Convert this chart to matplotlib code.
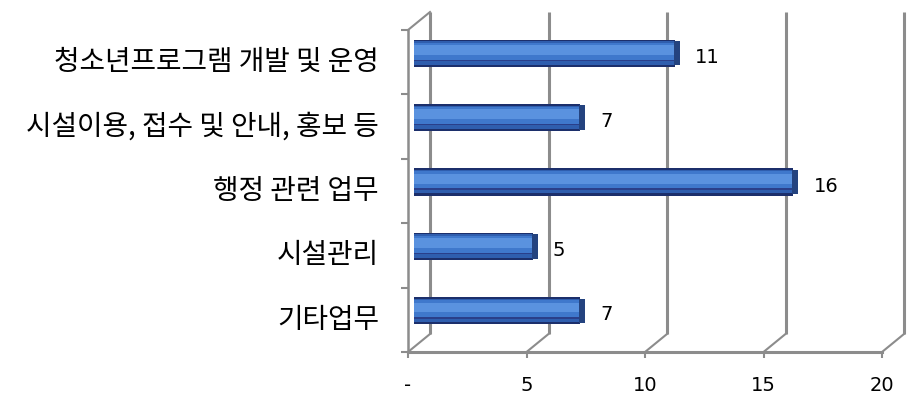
import matplotlib
matplotlib.use("Agg")
import matplotlib.pyplot as plt
from matplotlib.transforms import offset_copy
import numpy as np

# Data
categories = ["청소년프로그램 개발 및 운영", "시설이용, 접수 및 안내, 홍보 등",
              "행정 관련 업무", "시설관리", "기타업무"]
values = [11, 7, 16, 5, 7]
x_ticks = [0, 5, 10, 15, 20]
x_tick_labels = ["-", "5", "10", "15", "20"]

plt.rcParams["font.family"] = ["Noto Sans CJK KR", "DejaVu Sans"]

W, H, DPI = 907, 396, 100
fig = plt.figure(figsize=(W / DPI, H / DPI), dpi=DPI)
fig.patch.set_facecolor("white")

# Front plane of the pseudo-3D box
left_px, right_px, bottom_px, top_px = 408, 882, 352, 30
ax = fig.add_axes([left_px / W, 1 - bottom_px / H,
                   (right_px - left_px) / W, (bottom_px - top_px) / H])
ax.set_xlim(0, 20)
ax.set_ylim(len(categories) - 0.5, -0.5)
ax.patch.set_alpha(0)
for s in ax.spines.values():
    s.set_visible(False)

grid_c = "#8c8c8c"
depth_dx, depth_dy = 22, 18          # back wall offset in pixels
back = offset_copy(ax.transData, fig=fig, x=depth_dx, y=depth_dy, units="dots")
mid = offset_copy(ax.transData, fig=fig, x=depth_dx / 2, y=depth_dy / 2, units="dots")

ymin, ymax = len(categories) - 0.5, -0.5
# back wall vertical gridlines
for xv in x_ticks:
    ax.plot([xv, xv], [ymin, ymax], color=grid_c, lw=2.2, transform=back,
            clip_on=False, zorder=1, solid_capstyle="butt")
    # floor diagonals joining front and back
    p = ax.transData.transform((xv, ymin))
    ax.plot([p[0], p[0] + depth_dx], [p[1], p[1] + depth_dy], color=grid_c,
            lw=1.5, transform=None, clip_on=False, zorder=1)

# left wall: front edge and top diagonal
ax.plot([0, 0], [ymin, ymax], color=grid_c, lw=1.8, clip_on=False, zorder=1)
p = ax.transData.transform((0, ymax))
ax.plot([p[0], p[0] + depth_dx], [p[1], p[1] + depth_dy], color=grid_c,
        lw=1.5, transform=None, clip_on=False, zorder=1)
# floor front edge
ax.plot([0, 20], [ymin, ymin], color=grid_c, lw=2.2, clip_on=False, zorder=1)

# bars as shaded cylinders
y = np.arange(len(categories))
h = 0.42
strips = [
    (0.0, 1.00, "#1c2f6b"),
    (-0.01, 0.86, "#2f5eae"),
    (-0.06, 0.66, "#3f78cc"),
    (-0.12, 0.36, "#5a92df"),
    (0.26, 0.05, "#2a3f8a"),
]
for off, frac, col in strips:
    ax.barh(y + off * h, values, left=-0.2, height=h * frac, color=col,
            edgecolor="none", transform=mid, zorder=3)
# darker end caps
ax.barh(y, [0.25] * len(values), left=np.array(values) - 0.25, height=h * 0.9,
        color="#24437f", edgecolor="none", transform=mid, zorder=4)

# value labels
for yi, v in zip(y, values):
    ax.annotate(str(v), xy=(v, yi), xycoords=mid, xytext=(11, -3),
                textcoords="offset points", va="center", ha="left",
                fontsize=14, color="black", family=["DejaVu Sans"])

# axes ticks and labels
ax.set_yticks(y)
ax.set_yticklabels(categories, fontsize=20)
ax.tick_params(axis="y", length=0, pad=21)
for lab in ax.get_yticklabels():
    lab.set_va("center")
ax.set_yticks(np.arange(len(categories) + 1) - 0.5, minor=True)
ax.tick_params(axis="y", which="minor", length=5, width=1.5, color=grid_c)

ax.set_xticks(x_ticks)
ax.set_xticklabels(x_tick_labels, fontsize=14, family=["DejaVu Sans"])
ax.tick_params(axis="x", length=4, width=1.5, color=grid_c, pad=13)

fig.savefig("out.png", dpi=DPI, facecolor="white")
